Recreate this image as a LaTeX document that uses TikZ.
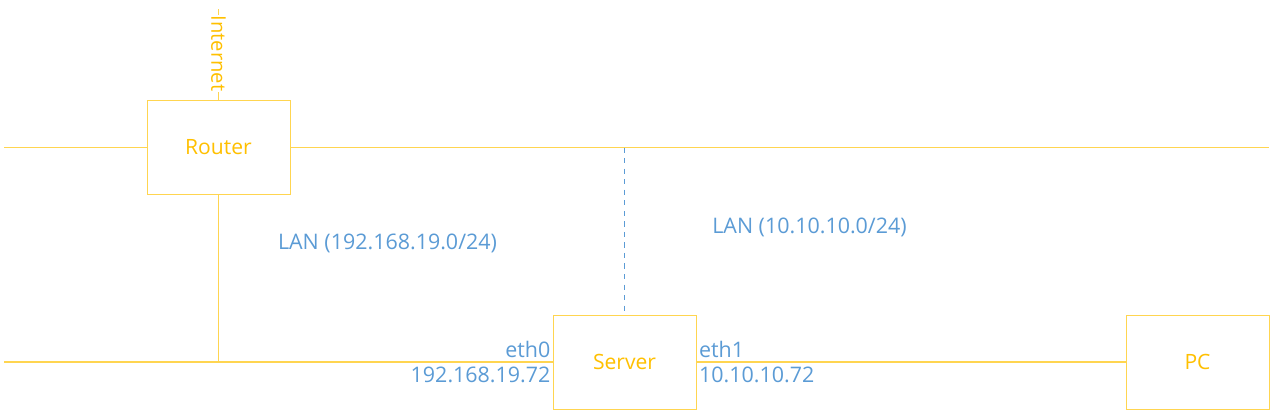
\documentclass[tikz,border=0pt]{standalone}
\usepackage{fontspec}
\setmainfont{Open Sans}
\usetikzlibrary{positioning}
\definecolor{netyellow}{HTML}{FFC000}
\definecolor{lineyellow}{HTML}{FFD550}
\definecolor{netblue}{HTML}{5B9BD5}

\begin{document}
\begin{tikzpicture}[x=0.02cm,y=-0.02cm,
    device/.style={draw=lineyellow,fill=white,text=netyellow,minimum width=2.86cm,minimum height=1.88cm,font=\fontsize{12}{14}\selectfont},
    wire/.style={draw=lineyellow,semithick},
    iplabel/.style={text=netblue,font=\fontsize{12.2}{14}\selectfont,inner sep=1pt}]
        \useasboundingbox (0,0) rectangle (1274,413);

        \node[device] (router) at (218.5,147.5) {Router};
        \node[device] (server) at (624.5,362) {Server};
        \node[device] (pc) at (1197.5,362) {PC};

        \coordinate (lanleft) at (4,147.5);
        \coordinate (lanright) at (1269,147.5);
        \coordinate (wanleft) at (4,362);
        \coordinate (inet) at (218.5,9);
        \coordinate (tap) at (624.5,147.5);
        \coordinate (tapend) at (624.5,312);

        \draw[wire] (lanleft) -- (router.west);
        \draw[wire] (router.east) -- (lanright);
        \draw[wire] (router.south) -- (router.south |- server.west);
        \draw[wire] (wanleft) -- (server.west);
        \draw[wire] (server.east) -- (pc.west);
        \draw[wire] (inet) -- (router.north);
        \draw[netblue,dashed] (tap) -- (tapend);

        \node[fill=white,text=netyellow,rotate=-90,inner sep=0.5pt,font=\fontsize{11.5}{14}\selectfont] (internet) at (218.5,53.5) {Internet};

        \node[iplabel] (lan1) at (387.5,243) {LAN (192.168.19.0/24)};
        \node[iplabel] (lan2) at (809.5,227) {LAN (10.10.10.0/24)};

        \node[iplabel,anchor=east] (eth0) at (552.5,349) {eth0};
        \node[iplabel,anchor=east] (ip0) at (552.5,375) {192.168.19.72};
        \node[iplabel,anchor=west] (eth1) at (697,349) {eth1};
        \node[iplabel,anchor=west] (ip1) at (697,375) {10.10.10.72};
      \end{tikzpicture}
\end{document}
